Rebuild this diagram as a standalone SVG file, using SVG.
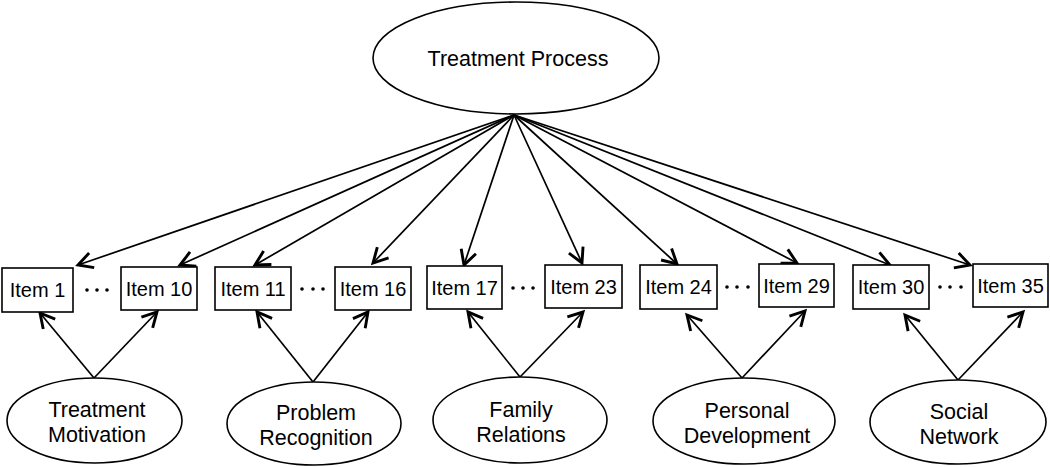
<svg xmlns="http://www.w3.org/2000/svg" width="1050" height="467" viewBox="0 0 1050 467">
<style>
.n{fill:#fff;stroke:#000;stroke-width:1.6}
.t{font-family:"Liberation Sans",Arial,sans-serif;font-size:20px;fill:#000;text-anchor:middle}
.L{font-family:"Liberation Sans",Arial,sans-serif;font-size:21.5px;fill:#000;text-anchor:middle}
.c{stroke:#000;stroke-width:1.7;fill:none;marker-end:url(#ah)}
.d{fill:#000}
</style>
<defs>
<marker id="ah" markerUnits="userSpaceOnUse" markerWidth="20" markerHeight="20" viewBox="-14 -9 16 18" refX="0" refY="0" orient="auto">
<path d="M-13,-7 L0,0 L-13,7" fill="none" stroke="#000" stroke-width="2.6" stroke-linejoin="miter"/>
</marker>
</defs>
<rect width="1050" height="467" fill="#fff"/>
<g id="connectors">
<line class="c" x1="514" y1="115" x2="78" y2="265"/>
<line class="c" x1="514" y1="115" x2="180" y2="265"/>
<line class="c" x1="514" y1="115" x2="255" y2="265"/>
<line class="c" x1="514" y1="115" x2="373" y2="263"/>
<line class="c" x1="514" y1="115" x2="464" y2="265"/>
<line class="c" x1="514" y1="115" x2="582" y2="263"/>
<line class="c" x1="514" y1="115" x2="677" y2="264"/>
<line class="c" x1="514" y1="115" x2="797" y2="263"/>
<line class="c" x1="514" y1="115" x2="890" y2="265"/>
<line class="c" x1="514" y1="115" x2="970" y2="265"/>
<line class="c" x1="94" y1="378" x2="40" y2="313"/>
<line class="c" x1="94" y1="378" x2="157" y2="312"/>
<line class="c" x1="313" y1="382" x2="257" y2="312"/>
<line class="c" x1="313" y1="382" x2="368" y2="312"/>
<line class="c" x1="520" y1="377" x2="468" y2="312"/>
<line class="c" x1="520" y1="377" x2="583" y2="312"/>
<line class="c" x1="742" y1="378" x2="687" y2="315"/>
<line class="c" x1="742" y1="378" x2="805" y2="311"/>
<line class="c" x1="958" y1="380" x2="905" y2="315"/>
<line class="c" x1="958" y1="380" x2="1023" y2="312"/>
</g>
<g id="treatment-process">
<ellipse class="n" cx="516" cy="58" rx="143" ry="56"/>
<text class="L" x="518" y="66">Treatment Process</text>
</g>
<g id="item1"><rect class="n" x="2" y="268" width="71" height="44"/><text class="t" x="37.5" y="297">Item 1</text></g>
<g id="item10"><rect class="n" x="121" y="267" width="76" height="43"/><text class="t" x="159" y="296">Item 10</text></g>
<g id="item11"><rect class="n" x="215" y="267" width="76" height="43"/><text class="t" x="253" y="296">Item 11</text></g>
<g id="item16"><rect class="n" x="335" y="267" width="76" height="43"/><text class="t" x="373" y="296">Item 16</text></g>
<g id="item17"><rect class="n" x="427" y="266" width="75" height="43"/><text class="t" x="464.5" y="295">Item 17</text></g>
<g id="item23"><rect class="n" x="545" y="265" width="77" height="43"/><text class="t" x="583.5" y="294">Item 23</text></g>
<g id="item24"><rect class="n" x="640" y="265" width="77" height="44"/><text class="t" x="678.5" y="294">Item 24</text></g>
<g id="item29"><rect class="n" x="759" y="264" width="75" height="43"/><text class="t" x="796.5" y="293">Item 29</text></g>
<g id="item30"><rect class="n" x="853" y="265" width="76" height="44"/><text class="t" x="891" y="294">Item 30</text></g>
<g id="item35"><rect class="n" x="973" y="264" width="75" height="43"/><text class="t" x="1010.5" y="293">Item 35</text></g>
<g id="dots">
<circle class="d" cx="87" cy="290" r="1.8"/><circle class="d" cx="97" cy="290" r="1.8"/><circle class="d" cx="107" cy="290" r="1.8"/>
<circle class="d" cx="302" cy="289" r="1.8"/><circle class="d" cx="313" cy="289" r="1.8"/><circle class="d" cx="323" cy="289" r="1.8"/>
<circle class="d" cx="513" cy="288" r="1.8"/><circle class="d" cx="523" cy="288" r="1.8"/><circle class="d" cx="533" cy="288" r="1.8"/>
<circle class="d" cx="727" cy="287" r="1.8"/><circle class="d" cx="737" cy="287" r="1.8"/><circle class="d" cx="748" cy="287" r="1.8"/>
<circle class="d" cx="940" cy="287" r="1.8"/><circle class="d" cx="950" cy="287" r="1.8"/><circle class="d" cx="961" cy="287" r="1.8"/>
</g>
<g id="treatment-motivation"><ellipse class="n" cx="94.5" cy="420.5" rx="87.5" ry="42.5"/><text class="L" x="97" y="417">Treatment</text><text class="L" x="97" y="442">Motivation</text></g>
<g id="problem-recognition"><ellipse class="n" cx="314" cy="423.5" rx="87" ry="41.5"/><text class="L" x="316" y="420">Problem</text><text class="L" x="316" y="445">Recognition</text></g>
<g id="family-relations"><ellipse class="n" cx="520" cy="420" rx="87" ry="43"/><text class="L" x="521" y="417">Family</text><text class="L" x="521" y="442">Relations</text></g>
<g id="personal-development"><ellipse class="n" cx="744" cy="421" rx="91" ry="43"/><text class="L" x="747" y="418">Personal</text><text class="L" x="747" y="443">Development</text></g>
<g id="social-network"><ellipse class="n" cx="958" cy="422" rx="88" ry="42"/><text class="L" x="959" y="419">Social</text><text class="L" x="959" y="444">Network</text></g>
</svg>
